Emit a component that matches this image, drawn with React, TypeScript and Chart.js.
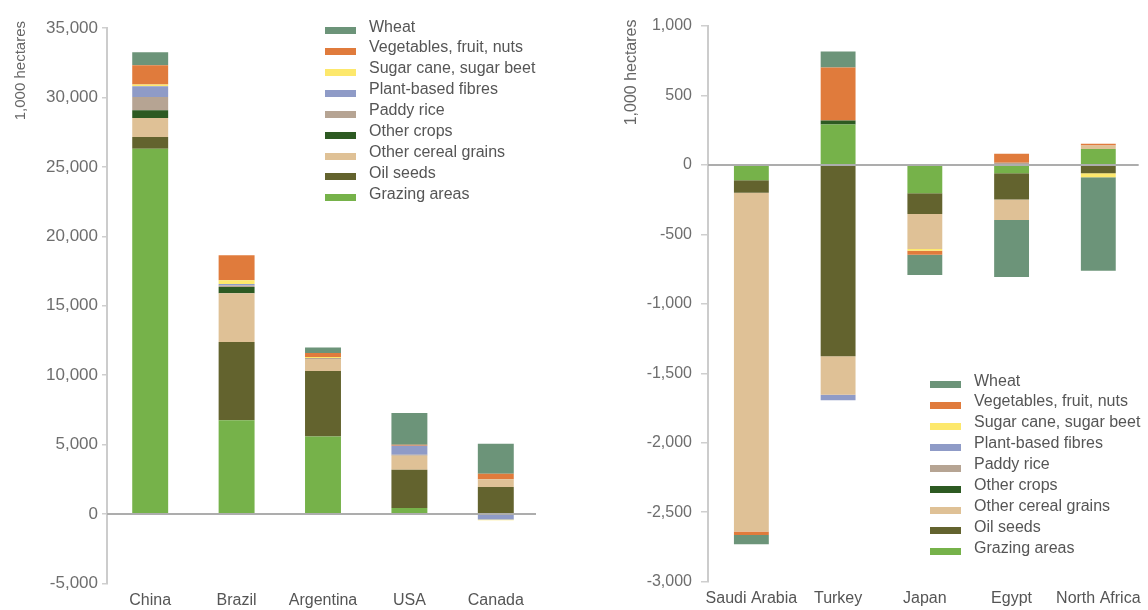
import React, { useEffect, useRef } from "react";
import { Chart, registerables } from "chart.js";

Chart.register(...registerables);

// ---- Series (stack order bottom → top) ----
const seriesNames = [
  "Grazing areas",
  "Oil seeds",
  "Other cereal grains",
  "Other crops",
  "Paddy rice",
  "Plant-based fibres",
  "Sugar cane, sugar beet",
  "Vegetables, fruit, nuts",
  "Wheat",
];
const seriesColors = [
  "#76b24a",
  "#63632e",
  "#dfc196",
  "#2d5a22",
  "#b6a493",
  "#8f9bc7",
  "#fde86c",
  "#e07b3c",
  "#6c9479",
];

// ---- Left chart data (1,000 hectares) ----
const leftCategories = ["China", "Brazil", "Argentina", "USA", "Canada"];
const leftGrazing = [26300, 6750, 5590, 430, 0];
const leftOilSeeds = [850, 5640, 4720, 2760, 1950];
const leftOtherCereal = [1370, 3510, 860, 1010, 550];
const leftOtherCrops = [550, 450, 0, 0, 0];
const leftPaddyRice = [960, 110, 60, 70, -60];
const leftFibres = [770, 100, 0, 650, -330];
const leftSugar = [140, 270, 80, 0, -60];
const leftVeg = [1370, 1800, 290, 70, 410];
const leftWheat = [950, 0, 390, 2280, 2160];
const leftTicks = { min: -5000, max: 35000, step: 5000 };

// ---- Right chart data (1,000 hectares) ----
const rightCategories = ["Saudi Arabia", "Turkey", "Japan", "Egypt", "North Africa"];
const rightGrazing = [-110, 291, -204, -60, 115];
const rightOilSeeds = [-90, -1378, -149, -188, -60];
const rightOtherCereal = [-2439, -276, -253, -149, 25];
const rightOtherCrops = [0, 29, 0, 0, 0];
const rightPaddyRice = [0, 0, 0, 15, 0];
const rightFibres = [0, -39, 0, 0, 0];
const rightSugar = [0, 0, -12, 0, -28];
const rightVeg = [-25, 382, -29, 65, 12];
const rightWheat = [-67, 115, -146, -409, -674];
const rightTicks = { min: -3000, max: 1000, step: 500 };

const axisTitle = "1,000 hectares";
const FONT = "'Liberation Sans', Arial, Helvetica, sans-serif";

const leftSeries = [
  leftGrazing,
  leftOilSeeds,
  leftOtherCereal,
  leftOtherCrops,
  leftPaddyRice,
  leftFibres,
  leftSugar,
  leftVeg,
  leftWheat,
];
const rightSeries = [
  rightGrazing,
  rightOilSeeds,
  rightOtherCereal,
  rightOtherCrops,
  rightPaddyRice,
  rightFibres,
  rightSugar,
  rightVeg,
  rightWheat,
];

const zeroLinePlugin = {
  id: "zeroLine",
  afterDatasetsDraw(chart: any, _args: any, opts: any) {
    const y = chart.scales.y.getPixelForValue(0);
    const { left, right } = chart.chartArea;
    const ctx = chart.ctx;
    ctx.save();
    ctx.strokeStyle = "#adadad";
    ctx.lineWidth = 2;
    ctx.beginPath();
    ctx.moveTo(left, y);
    ctx.lineTo(right - (opts.inset || 0), y);
    ctx.stroke();
    ctx.restore();
  },
};

const axisTitlePlugin = {
  id: "axisTitle",
  afterDraw(chart: any, _args: any, opts: any) {
    const ctx = chart.ctx;
    ctx.save();
    ctx.translate(opts.x, opts.y);
    ctx.rotate(-Math.PI / 2);
    ctx.font = `${opts.size}px ${FONT}`;
    ctx.fillStyle = "#666666";
    ctx.textAlign = "right";
    ctx.textBaseline = "middle";
    ctx.fillText(opts.text, 0, 0);
    ctx.restore();
  },
};

type ChartProps = {
  categories: string[];
  series: number[][];
  ticks: { min: number; max: number; step: number };
  width: number;
  height: number;
  yAxisWidth: number;
  xAxisHeight: number;
  padTop: number;
  padRight: number;
  barPct: number;
  tickLen: number;
  tickPad: number;
  tickSize: number;
  titleX: number;
  titleY: number;
  titleSize: number;
};

function StackedChart(p: ChartProps) {
  const ref = useRef<HTMLCanvasElement | null>(null);
  useEffect(() => {
    if (!ref.current) return;
    const chart = new Chart(ref.current, {
      type: "bar",
      data: {
        labels: p.categories,
        datasets: p.series.map((vals, i) => ({
          label: seriesNames[i],
          data: vals,
          backgroundColor: seriesColors[i],
          borderWidth: 0,
          barPercentage: p.barPct,
          categoryPercentage: 1,
        })),
      },
      options: {
        responsive: false,
        animation: false,
        devicePixelRatio: 1,
        layout: { padding: { top: p.padTop, right: p.padRight, left: 0, bottom: 0 } },
        plugins: {
          legend: { display: false },
          tooltip: { enabled: false },
          zeroLine: { inset: 3 },
          axisTitle: { text: axisTitle, x: p.titleX, y: p.titleY, size: p.titleSize },
        } as any,
        scales: {
          x: {
            stacked: true,
            grid: { display: false, drawTicks: false },
            border: { display: false },
            ticks: {
              color: "#555555",
              font: { family: FONT, size: 16 },
              padding: 7,
              maxRotation: 0,
              autoSkip: false,
            },
            afterFit(scale: any) {
              scale.height = p.xAxisHeight;
            },
          },
          y: {
            stacked: true,
            min: p.ticks.min,
            max: p.ticks.max,
            grid: {
              drawOnChartArea: false,
              drawTicks: true,
              tickLength: p.tickLen,
              color: "#cfcfcf",
              lineWidth: 1.5,
            },
            border: { display: true, color: "#cccccc", width: 2 },
            ticks: {
              stepSize: p.ticks.step,
              color: "#6e6e6e",
              font: { family: FONT, size: p.tickSize },
              padding: p.tickPad,
              callback: (v: any) => Number(v).toLocaleString("en-US"),
            },
            afterFit(scale: any) {
              scale.width = p.yAxisWidth;
            },
          },
        },
      },
      plugins: [zeroLinePlugin, axisTitlePlugin],
    });
    return () => chart.destroy();
  }, []);
  return (
    <canvas
      ref={ref}
      width={p.width}
      height={p.height}
      style={{ width: p.width, height: p.height, display: "block" }}
    />
  );
}

function Legend({ left, top }: { left: number; top: number }) {
  const order = seriesNames.map((_, i) => i).reverse();
  return (
    <div style={{ position: "absolute", left, top, fontFamily: FONT, fontSize: 16, color: "#555" }}>
      {order.map((i) => (
        <div key={i} style={{ position: "relative", height: 20.9, lineHeight: "20.9px", whiteSpace: "nowrap" }}>
          <span
            style={{
              position: "absolute",
              left: 0,
              top: 10.7,
              width: 31,
              height: 7,
              background: seriesColors[i],
            }}
          />
          <span style={{ position: "absolute", left: 44, top: 0 }}>{seriesNames[i]}</span>
        </div>
      ))}
    </div>
  );
}

export default function App() {
  return (
    <div style={{ position: "absolute", left: 0, top: 0, width: 1148, height: 610, background: "#fff", overflow: "hidden" }}>
      <div style={{ position: "absolute", left: 0, top: 0 }}>
        <StackedChart
          categories={leftCategories}
          series={leftSeries}
          ticks={leftTicks}
          width={545}
          height={610}
          yAxisWidth={107}
          xAxisHeight={26.5}
          padTop={28}
          padRight={6}
          barPct={0.416}
          tickLen={5}
          tickPad={4}
          tickSize={17}
          titleX={21}
          titleY={21}
          titleSize={15}
        />
      </div>
      <div style={{ position: "absolute", left: 590, top: 0 }}>
        <StackedChart
          categories={rightCategories}
          series={rightSeries}
          ticks={rightTicks}
          width={558}
          height={610}
          yAxisWidth={118}
          xAxisHeight={28.3}
          padTop={26}
          padRight={4.5}
          barPct={0.402}
          tickLen={7}
          tickPad={9}
          tickSize={16}
          titleX={42}
          titleY={19.5}
          titleSize={16}
        />
      </div>
      <Legend left={325} top={16.5} />
      <Legend left={930} top={370.5} />
    </div>
  );
}
